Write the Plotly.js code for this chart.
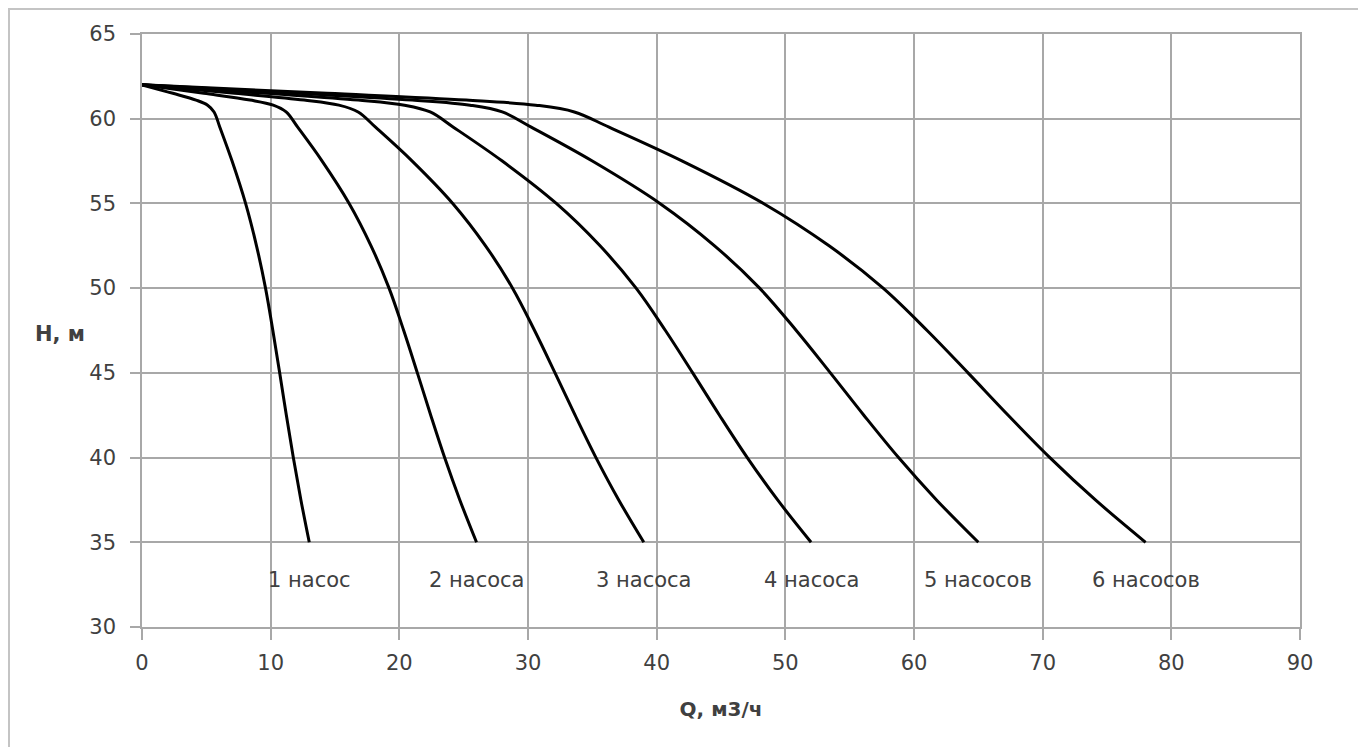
<!DOCTYPE html>
<html>
<head>
<meta charset="utf-8">
<script src="https://cdn.plot.ly/plotly-3.0.1.min.js"></script>
<style>
  html, body { margin: 0; padding: 0; background: #ffffff; }
  #wrap { position: relative; width: 1358px; height: 747px; }
  #chart { width: 1358px; height: 747px; }
  #frame { position: absolute; left: 8px; top: 8px; width: 1350px; height: 739px;
           border-top: 2px solid #c4c4c4; border-left: 2px solid #c4c4c4; pointer-events: none; box-sizing: border-box; }
</style>
</head>
<body>
<div id="wrap">
  <div id="chart"></div>
  <div id="frame"></div>
</div>
<script>
// Head H, m (shared by all curves)
const headH = [62, 61.5, 61.1, 60.8, 60.4, 59.5, 57.5, 55, 52.5, 50, 47.5, 45, 42.5, 40, 37.5, 35];

// Flow Q, m3/h for 1..6 pumps in parallel
const q1 = [0, 2.4, 4.2, 5.1, 5.6, 6.05, 7.0, 8.05, 8.9, 9.6, 10.17, 10.7, 11.22, 11.76, 12.35, 13];
const q2 = [0, 4.8, 8.4, 10.2, 11.2, 12.1, 14, 16.1, 17.8, 19.2, 20.34, 21.4, 22.44, 23.52, 24.7, 26];
const q3 = [0, 7.2, 12.6, 15.3, 16.8, 18.15, 21, 24.15, 26.7, 28.8, 30.51, 32.1, 33.66, 35.28, 37.05, 39];
const q4 = [0, 9.6, 16.8, 20.4, 22.4, 24.2, 28, 32.2, 35.6, 38.4, 40.68, 42.8, 44.88, 47.04, 49.4, 52];
const q5 = [0, 12, 21, 25.5, 28, 30.25, 35, 40.25, 44.5, 48, 50.85, 53.5, 56.1, 58.8, 61.75, 65];
const q6 = [0, 14.4, 25.2, 30.6, 33.6, 36.3, 42, 48.3, 53.4, 57.6, 61.02, 64.2, 67.32, 70.56, 74.1, 78];

// Curve labels
const seriesNames = ["1 насос", "2 насоса", "3 насоса", "4 насоса", "5 насосов", "6 насосов"];
const labelQ = [13, 26, 39, 52, 65, 78];
const labelH = 32.8;

// Axis text
const xTitle = "Q, м3/ч";
const yTitle = "H, м";

const qSeries = [q1, q2, q3, q4, q5, q6];

const traces = qSeries.map((q, i) => ({
  type: "scatter",
  mode: "lines",
  name: seriesNames[i],
  x: q,
  y: headH,
  line: { color: "#000000", width: 3, shape: "spline", smoothing: 1 },
  hoverinfo: "x+y+name"
}));

const tickFont = { family: "DejaVu Sans, Liberation Sans, sans-serif", size: 21, color: "#404040" };

const annotations = seriesNames.map((t, i) => ({
  x: labelQ[i], y: labelH, xref: "x", yref: "y",
  text: t, showarrow: false, xanchor: "center", yanchor: "middle",
  font: { family: "DejaVu Sans, Liberation Sans, sans-serif", size: 21, color: "#404040" }
}));
annotations.push({
  xref: "paper", yref: "paper", x: -0.0708, y: 0.494,
  text: "<b>" + yTitle + "</b>", showarrow: false, xanchor: "center", yanchor: "middle",
  font: { family: "DejaVu Sans, Liberation Sans, sans-serif", size: 21, color: "#404040" }
});

const layout = {
  width: 1358, height: 747,
  margin: { l: 142, r: 58, t: 34, b: 120, pad: 0 },
  paper_bgcolor: "#ffffff",
  plot_bgcolor: "#ffffff",
  showlegend: false,
  xaxis: {
    range: [0, 90], dtick: 10, tick0: 0,
    showgrid: true, gridcolor: "#a8a8a8", gridwidth: 1.5,
    zeroline: false,
    showline: true, linecolor: "#a8a8a8", linewidth: 1.5, mirror: true,
    ticks: "outside", ticklen: 11, tickcolor: "#a8a8a8", tickwidth: 1.5,
    ticklabelstandoff: 5,
    tickfont: tickFont,
    title: { text: "<b>" + xTitle + "</b>", standoff: 28,
             font: { family: "DejaVu Sans, Liberation Sans, sans-serif", size: 20, color: "#404040" } },
    fixedrange: true
  },
  yaxis: {
    range: [30, 65], dtick: 5, tick0: 30,
    showgrid: true, gridcolor: "#a8a8a8", gridwidth: 1.5,
    zeroline: false,
    showline: true, linecolor: "#a8a8a8", linewidth: 1.5, mirror: true,
    ticks: "outside", ticklen: 10, tickcolor: "#a8a8a8", tickwidth: 1.5,
    ticklabelstandoff: 10,
    tickfont: tickFont,
    fixedrange: true
  },
  annotations: annotations
};

Plotly.newPlot("chart", traces, layout, { displayModeBar: false, staticPlot: false });
</script>
</body>
</html>
